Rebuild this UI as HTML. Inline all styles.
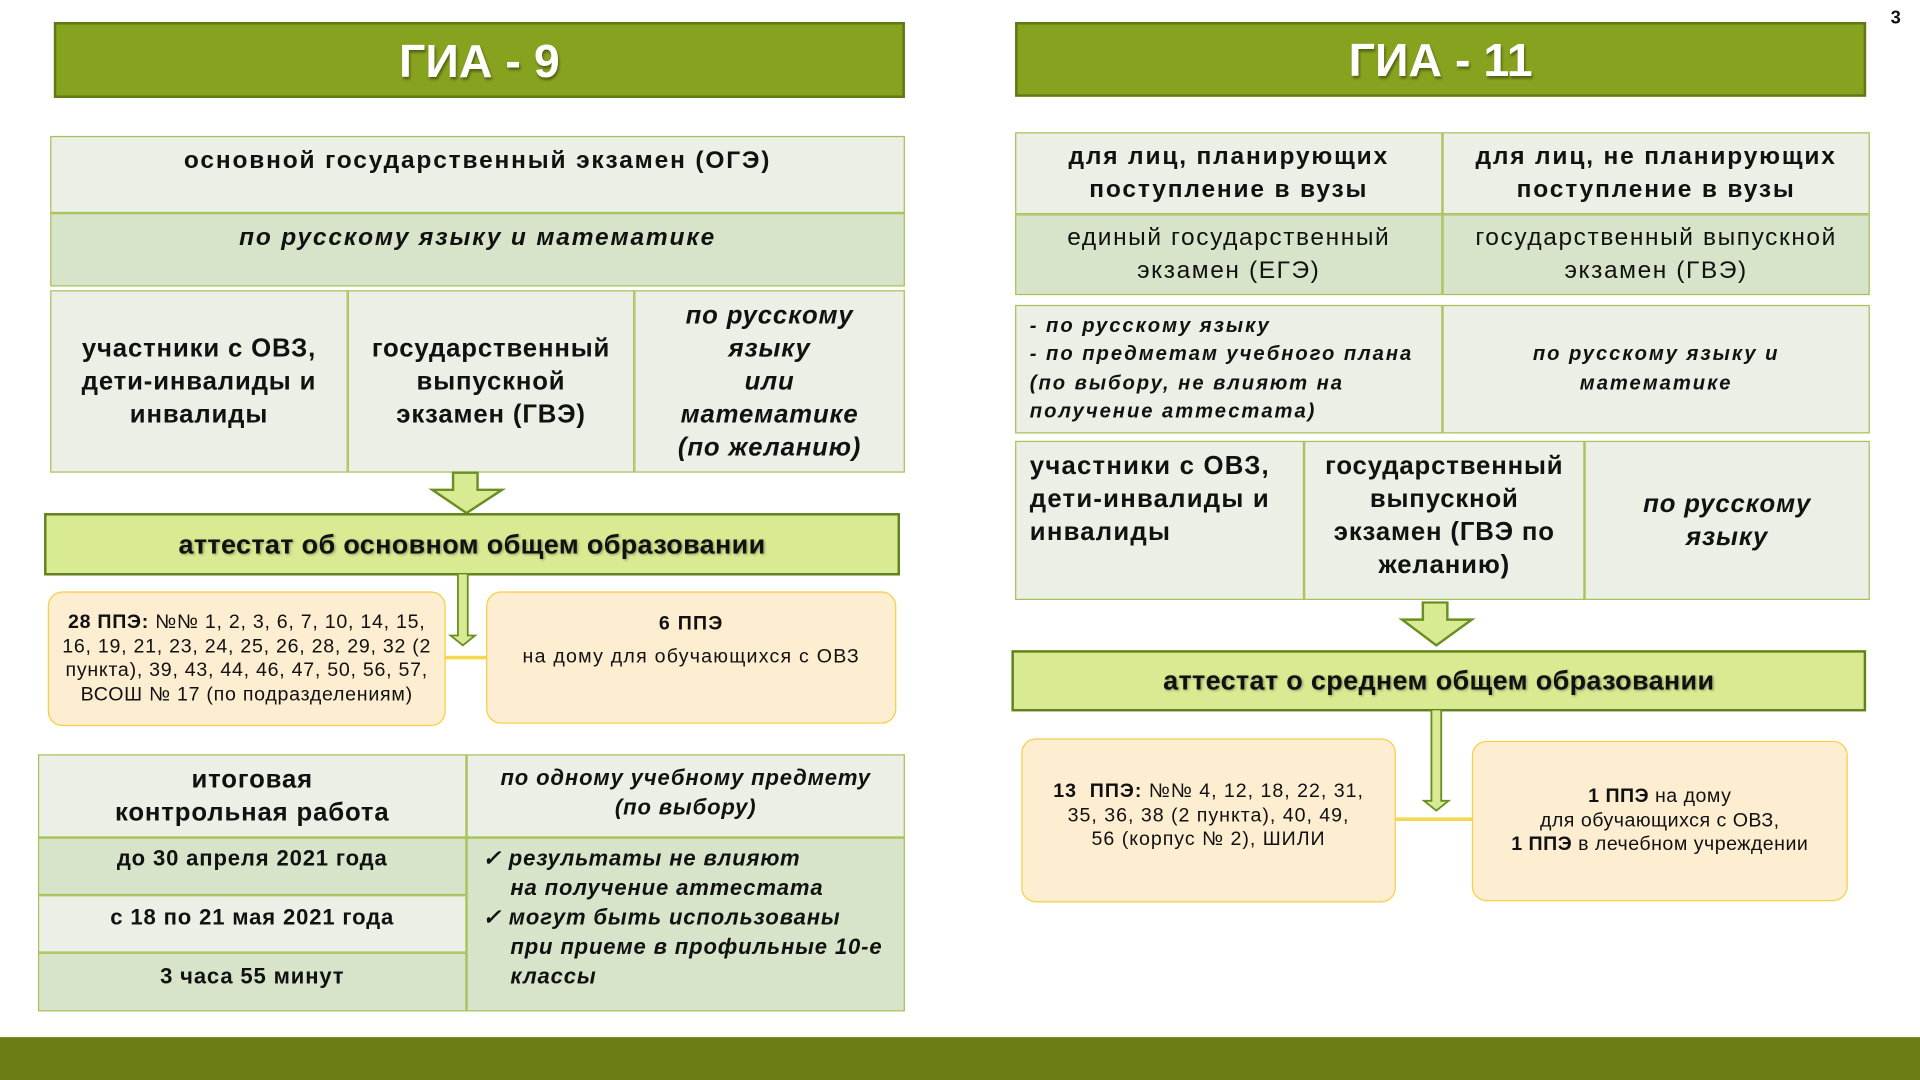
<!DOCTYPE html>
<html><head><meta charset="utf-8"><style>
html,body{margin:0;padding:0;width:1920px;height:1080px;overflow:hidden;background:#fff}
#w{position:absolute;left:0;top:0;width:1568px;height:882px;transform:scale(1.22449);transform-origin:0 0;font-family:"Liberation Sans",Arial,sans-serif;color:#111;letter-spacing:1px}
.a{position:absolute;box-sizing:border-box;display:flex;align-items:center;justify-content:center;text-align:center}
.h{background:#86a21e;border:2px solid #5f7a14;color:#fff;font-weight:bold;font-size:38px;text-shadow:1px 2px 2px rgba(0,0,0,.4);letter-spacing:0;padding-top:4px}
.l{background:#ebefe5;border:1.5px solid #a8c25a}
.d{background:#d8e4c9;border:1.5px solid #a8c25a}
.b{font-weight:bold}
.i{font-style:italic;font-weight:bold}
.t{letter-spacing:1.5px}
.m{letter-spacing:0.7px}
.at{background:#d8eb92;border:2px solid #62801c;font-weight:bold;font-size:22px;text-shadow:1px 1px 2px rgba(0,0,0,.35);letter-spacing:0.3px}
.p{background:#fdedd1;border:1.5px solid #f7cf40;border-radius:12px}
</style></head><body><div id="w">
<div class="a h" style="left:44px;top:18px;width:695px;height:62px">ГИА - 9</div>
<div class="a h" style="left:829px;top:18px;width:695px;height:61px">ГИА - 11</div>
<div style="position:absolute;left:1544px;top:6px;font-size:15px;font-weight:bold">3</div>

<!-- left -->
<div class="a l b t" style="left:41px;top:111px;width:698px;height:63px;font-size:20px;align-items:flex-start;padding-top:8px">основной государственный экзамен (ОГЭ)</div>
<div class="a d i t" style="left:41px;top:174px;width:698px;height:60px;font-size:20px;align-items:flex-start;padding-top:8px">по русскому языку и математике</div>
<div class="a l b m" style="left:41px;top:237px;width:243px;height:149px;font-size:21px;line-height:27px">участники с ОВЗ,<br>дети-инвалиды и<br>инвалиды</div>
<div class="a l b m" style="left:284px;top:237px;width:234px;height:149px;font-size:21px;line-height:27px">государственный<br>выпускной<br>экзамен (ГВЭ)</div>
<div class="a l i m" style="left:518px;top:237px;width:221px;height:149px;font-size:21px;line-height:27px">по русскому<br>языку<br>или<br>математике<br>(по желанию)</div>
<svg style="position:absolute;left:350px;top:385px" width="64" height="36"><path d="M20 1H40V15H60L31 34L3 15H20Z" fill="#d8eb92" stroke="#6b8e23" stroke-width="2"/></svg>
<div class="a at" style="left:36px;top:419px;width:699px;height:51px">аттестат об основном общем образовании</div>
<svg style="position:absolute;left:362px;top:469px" width="40" height="80"><path d="M12 0V50H6L16 58L26 50H20V0" fill="#d8eb92" stroke="#6b8e23" stroke-width="1.5"/><line x1="0" y1="68" x2="40" y2="68" stroke="#f3d94d" stroke-width="3"/></svg>
<div class="a p" style="left:39px;top:483px;width:325px;height:110px;font-size:16px;line-height:19.5px;letter-spacing:0.6px">
<div><b>28 ППЭ:</b> №№ 1, 2, 3, 6, 7, 10, 14, 15,<br>16, 19, 21, 23, 24, 25, 26, 28, 29, 32 (2<br>пункта), 39, 43, 44, 46, 47, 50, 56, 57,<br>ВСОШ № 17 (по подразделениям)</div></div>
<div class="a p" style="left:397px;top:483px;width:335px;height:108px;font-size:16px;line-height:27px;align-items:flex-start;padding-top:12px"><div><b>6 ППЭ</b><br>на дому для обучающихся с ОВЗ</div></div>

<div class="a l b m" style="left:31px;top:616px;width:350px;height:68px;font-size:21px;line-height:27px">итоговая<br>контрольная работа</div>
<div class="a l i m" style="left:381px;top:616px;width:358px;height:68px;font-size:18px;line-height:24px;align-items:flex-start;padding-top:6px">по одному учебному предмету<br>(по выбору)</div>
<div class="a d b m" style="left:31px;top:684px;width:350px;height:47px;font-size:18px;align-items:flex-start;padding-top:6px">до 30 апреля 2021 года</div>
<div class="a l b m" style="left:31px;top:731px;width:350px;height:47px;font-size:18px;align-items:flex-start;padding-top:7px">с 18 по 21 мая 2021 года</div>
<div class="a d b m" style="left:31px;top:778px;width:350px;height:48px;font-size:18px;align-items:flex-start;padding-top:8px">3 часа 55 минут</div>
<div class="a d i m" style="left:381px;top:684px;width:358px;height:142px;font-size:18px;line-height:24px;text-align:left;justify-content:flex-start;align-items:flex-start;padding:4px 0 0 12px">
<div>✓ результаты не влияют<br>&nbsp;&nbsp;&nbsp;&nbsp;на получение аттестата<br>✓ могут быть использованы<br>&nbsp;&nbsp;&nbsp;&nbsp;при приеме в профильные 10-е<br>&nbsp;&nbsp;&nbsp;&nbsp;классы</div></div>

<!-- right -->
<div class="a l b t" style="left:829px;top:108px;width:349px;height:67px;font-size:20px;line-height:27px">для лиц, планирующих<br>поступление в вузы</div>
<div class="a l b t" style="left:1178px;top:108px;width:349px;height:67px;font-size:20px;line-height:27px">для лиц, не планирующих<br>поступление в вузы</div>
<div class="a d t" style="left:829px;top:175px;width:349px;height:66px;font-size:20px;line-height:27px;letter-spacing:1.3px">единый государственный<br>экзамен (ЕГЭ)</div>
<div class="a d t" style="left:1178px;top:175px;width:349px;height:66px;font-size:20px;line-height:27px;letter-spacing:1.3px">государственный выпускной<br>экзамен (ГВЭ)</div>
<div class="a l i t" style="left:829px;top:249px;width:349px;height:105px;font-size:16.5px;line-height:23.5px;text-align:left;justify-content:flex-start;padding-left:11px;letter-spacing:1.6px">- по русскому языку<br>- по предметам учебного плана<br>(по выбору, не влияют на<br>получение аттестата)</div>
<div class="a l i t" style="left:1178px;top:249px;width:349px;height:105px;font-size:16.5px;line-height:23.5px;letter-spacing:1.6px">по русскому языку и<br>математике</div>
<div class="a l b" style="left:829px;top:360px;width:236px;height:130px;font-size:21px;line-height:27px;text-align:left;justify-content:flex-start;align-items:flex-start;padding:6px 0 0 11px">участники с ОВЗ,<br>дети-инвалиды и<br>инвалиды</div>
<div class="a l b m" style="left:1065px;top:360px;width:229px;height:130px;font-size:21px;line-height:27px;align-items:flex-start;padding-top:6px">государственный<br>выпускной<br>экзамен (ГВЭ по<br>желанию)</div>
<div class="a l i m" style="left:1294px;top:360px;width:233px;height:130px;font-size:21px;line-height:27px">по русскому<br>языку</div>
<svg style="position:absolute;left:1142px;top:491px" width="64" height="38"><path d="M20 1H40V15H60L31 36L3 15H20Z" fill="#d8eb92" stroke="#6b8e23" stroke-width="2"/></svg>
<div class="a at" style="left:826px;top:531px;width:698px;height:50px">аттестат о среднем общем образовании</div>
<svg style="position:absolute;left:1138px;top:580px" width="70" height="100"><path d="M31 0V74H25L35 82L45 74H39V0" fill="#d8eb92" stroke="#6b8e23" stroke-width="1.5"/><line x1="0" y1="89" x2="70" y2="89" stroke="#f3d94d" stroke-width="3"/></svg>
<div class="a p" style="left:834px;top:603px;width:306px;height:134px;font-size:16px;line-height:19.5px;align-items:flex-start;padding-top:33px;letter-spacing:0.8px"><div><b>13&nbsp; ППЭ:</b> №№ 4, 12, 18, 22, 31,<br>35, 36, 38 (2 пункта), 40, 49,<br>56 (корпус № 2), ШИЛИ</div></div>
<div class="a p" style="left:1202px;top:605px;width:307px;height:131px;font-size:16px;line-height:19.5px;letter-spacing:0.4px"><div><b>1 ППЭ</b> на дому<br>для обучающихся с ОВЗ,<br><b>1 ППЭ</b> в лечебном учреждении</div></div>

<div style="position:absolute;left:0;top:847px;width:1568px;height:35px;background:#6b7d13"></div>
</div></body></html>
